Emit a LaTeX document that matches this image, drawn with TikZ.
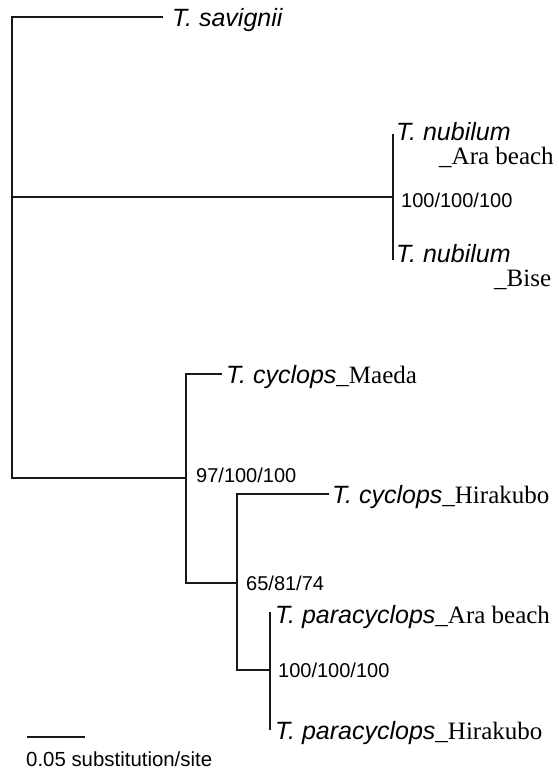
\documentclass[tikz,border=0pt]{standalone}
\usepackage{fontspec}
\setmainfont{Liberation Serif}
\setsansfont{Liberation Sans}
\newcommand{\genus}[1]{{\sffamily\itshape #1}}
\newcommand{\locality}[1]{{\rmfamily\upshape #1}}
\begin{document}
\begin{tikzpicture}[x=1pt,y=-1pt,
  branch/.style={line width=2.2pt, line cap=butt, line join=miter, draw=black!90},
  leaf/.style={anchor=base west, inner sep=0pt, font=\fontsize{25}{29}\selectfont},
  support/.style={anchor=base west, inner sep=0pt, font=\sffamily\fontsize{20}{24}\selectfont},
  scalelabel/.style={anchor=base west, inner sep=0pt, font=\sffamily\fontsize{20.4}{24}\selectfont}]
\useasboundingbox (0,0) rectangle (558,769);

% root
\coordinate (rtop) at (12,17);
\coordinate (rmid) at (12,197);
\coordinate (rbot) at (12,478);
\coordinate (savend) at (163,17);

% T. nubilum pair
\coordinate (nub) at (393,197);
\coordinate (nubT) at (393,134);
\coordinate (nubB) at (393,260);

% T. cyclops / T. paracyclops clade
\coordinate (cyc) at (186,478);
\coordinate (c1) at (186,374);
\coordinate (c2) at (186,583);
\coordinate (maedaend) at (222,374);
\coordinate (c3) at (237,583);
\coordinate (c4) at (237,494);
\coordinate (c5) at (237,670);
\coordinate (hirend) at (329,494);
\coordinate (p0) at (270,670);
\coordinate (p1) at (270,612);
\coordinate (p2) at (270,730);

% scale bar
\coordinate (sb1) at (27,737);
\coordinate (sb2) at (85,737);

% branches
\draw[branch] (savend) -- (rtop) -- (rbot) -- (cyc);
\draw[branch] (rmid) -- (nub);
\draw[branch] (nubT) -- (nubB);
\draw[branch] (maedaend) -- (c1) -- (c2) -- (c3);
\draw[branch] (hirend) -- (c4) -- (c5) -- (p0);
\draw[branch] (p1) -- (p2);
\draw[branch] (sb1) -- (sb2);

% taxon labels
\node[leaf] (sav) at (172,26) {\genus{T. savignii}};
\node[leaf] (nubA) at (396,140) {\genus{T. nubilum}};
\node[leaf] (nubAloc) at (439,164) {\locality{\_Ara beach}};
\node[leaf] (nubBi) at (396,262) {\genus{T. nubilum}};
\node[leaf] (nubBloc) at (494,286) {\locality{\_Bise}};
\node[leaf] (maeda) at (226,383) {\genus{T. cyclops}\locality{\_Maeda}};
\node[leaf] (hira) at (332,503) {\genus{T. cyclops}\locality{\_Hirakubo}};
\node[leaf] (paraA) at (275,623) {\genus{T. paracyclops}\locality{\_Ara beach}};
\node[leaf] (paraH) at (275,739) {\genus{T. paracyclops}\locality{\_Hirakubo}};

% support values
\node[support] (bsnub) at (401,207) {100/100/100};
\node[support] (bscyc) at (196,482) {97/100/100};
\node[support] (bsin) at (246,590) {65/81/74};
\node[support] (bspara) at (278,677) {100/100/100};

% scale label
\node[scalelabel] (sbl) at (26,766) {0.05 substitution/site};
\end{tikzpicture}
\end{document}
